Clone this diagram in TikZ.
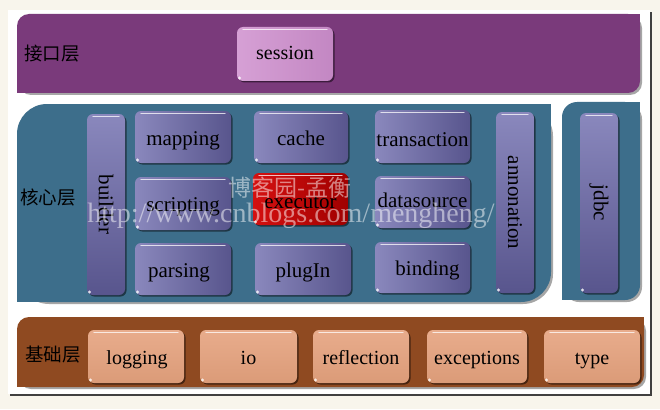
\documentclass[tikz,border=0pt]{standalone}
\usepackage{fontspec}
\setmainfont{Liberation Serif}
\newfontfamily\cjk{Noto Sans CJK SC}
\usetikzlibrary{shadows}
\definecolor{bgcream}{HTML}{F8F5EC}
\definecolor{purpleband}{HTML}{7A3A7B}
\definecolor{coreband}{HTML}{3D6E8B}
\definecolor{brownband}{HTML}{8F4A21}
\definecolor{sessA}{HTML}{D6A0D5}
\definecolor{sessB}{HTML}{C387C3}
\definecolor{boxA}{HTML}{8A88BD}
\definecolor{boxB}{HTML}{58558D}
\definecolor{redA}{HTML}{D41010}
\definecolor{redB}{HTML}{A00000}
\definecolor{peachA}{HTML}{E8AC8C}
\definecolor{peachB}{HTML}{DB9B78}
\newcommand\myband[6]{%
  \fill[black,opacity=.35,rounded corners=#6] (#2+2,#3+2) rectangle (#4+2,#5+2);
  \fill[#1,rounded corners=#6] (#2,#3) rectangle (#4,#5);
  \fill[#1] (#4-#6,#3) rectangle (#4,#3+#6);
  \fill[#1] (#2,#5-#6) rectangle (#2+#6,#5);
}
\tikzset{
  hilite/.style={path picture={\draw[white,opacity=.75,line width=1.3pt,line cap=round]
     ([xshift=6pt,yshift=-2.5pt]path picture bounding box.north west) --
     ([xshift=-6pt,yshift=-2.5pt]path picture bounding box.north east);
     \fill[white,opacity=.8] ([xshift=2.5pt,yshift=3pt]path picture bounding box.south west) circle (1.6pt);}},
  basebox/.style={rounded corners=6pt, inner sep=0pt, hilite, text depth=5pt, text height=21pt,
     drop shadow={shadow xshift=1.5pt,shadow yshift=-1.5pt,opacity=.5,fill=black}},
  corebox/.style={basebox, left color=boxA, right color=boxB, minimum width=95pt, minimum height=52pt,
     font=\fontsize{21}{25}\selectfont},
  vbox/.style={basebox, top color=boxA, bottom color=boxB, minimum width=38pt, minimum height=181pt},
  vtext/.style={rotate=-90, font=\fontsize{21}{25}\selectfont},
  redbox/.style={basebox, left color=redA, right color=redB, minimum width=95pt, minimum height=52pt,
     font=\fontsize{21}{25}\selectfont},
  peachbox/.style={basebox, top color=peachA, bottom color=peachB, minimum width=96pt, minimum height=53pt,
     text height=20pt, font=\fontsize{20}{24}\selectfont},
  sessbox/.style={basebox, left color=sessA, right color=sessB, minimum width=96pt, minimum height=54pt,
     text height=17pt, font=\fontsize{20}{24}\selectfont},
  layerlabel/.style={font=\cjk\fontsize{18.5}{22}\selectfont, text=black},
  wmark/.style={text=white, opacity=.5}
}
\begin{document}
\begin{tikzpicture}[x=1pt,y=-1pt]
\useasboundingbox (0,0) rectangle (660,409);
\fill[bgcream] (0,0) rectangle (660,409);
% white panel with shadow
\fill[black!75] (10,12) rectangle (652,396);
\fill[white] (8,10) rectangle (650,394);
% bands
\myband{purpleband}{17}{14}{640}{93}{12}
\myband{coreband}{17}{104}{551}{302}{30}
\myband{coreband}{562}{102}{640}{300}{15}
\myband{brownband}{17}{317}{644}{387}{12}
% layer labels
\node[layerlabel] (l1) at (52,54) {接口层};
\node[layerlabel] (l2) at (48,198) {核心层};
\node[layerlabel] (l3) at (53,355) {基础层};
% interface layer
\node[sessbox] (session) at (285,54) {session};
% core layer
\node[vbox] (builder) at (106,204.5) {};
\node[vtext] at (builder.center) {builder};
\node[corebox, minimum width=96pt] (mapping) at (183,137) {mapping};
\node[corebox, minimum width=94pt] (cache) at (301,137) {cache};
\node[corebox, minimum height=53pt, text height=25pt] (transaction) at (422.5,136.5) {transaction};
\node[corebox, minimum width=96pt, minimum height=53pt] (scripting) at (183,203.5) {scripting};
\node[redbox, text height=23pt] (executor) at (300.5,199) {executor};
\node[corebox, text height=15pt] (datasource) at (422.5,202) {datasource};
\node[corebox, minimum width=96pt] (parsing) at (183,269) {\hspace{-8pt}parsing};
\node[corebox, minimum width=96pt] (plugIn) at (303,269) {plugIn};
\node[corebox, minimum height=51pt] (binding) at (422.5,267.5) {\hspace{10pt}binding};
\node[vbox] (annonation) at (515,202.5) {};
\node[vtext] at (annonation.center) {annonation};
\node[vbox, minimum height=180pt] (jdbc) at (599,203) {};
\node[vtext] at (jdbc.center) {jdbc};
% base layer
\node[peachbox] (logging) at (136,356.5) {\hspace{2pt}logging};
\node[peachbox, minimum width=97pt] (io) at (248.5,356.5) {io};
\node[peachbox] (reflection) at (361,356.5) {reflection};
\node[peachbox, minimum width=100pt] (exceptions) at (477,356.5) {exceptions};
\node[peachbox] (type) at (592,356.5) {type};
% watermark
\node[wmark, font=\cjk\fontsize{23}{26}\selectfont] (wm1) at (290,188) {博客园-孟衡};
\node[wmark, font=\fontsize{28}{31}\selectfont] (wm2) at (291,216) {http://www.cnblogs.com/mengheng/};
\end{tikzpicture}
\end{document}
